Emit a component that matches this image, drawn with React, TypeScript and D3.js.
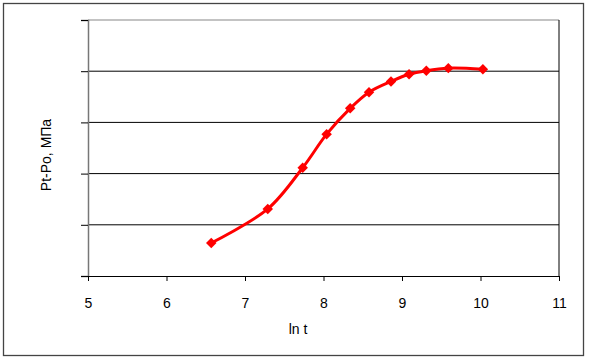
import React, { useEffect, useRef } from "react";
import * as d3 from "d3";

const lnT = [6.57, 7.29, 7.735, 8.04, 8.34, 8.58, 8.86, 9.09, 9.31, 9.59, 10.03];
const pressure = [0.645, 1.31, 2.115, 2.77, 3.275, 3.59, 3.8, 3.94, 4.01, 4.06, 4.04];
const xTicks = [5, 6, 7, 8, 9, 10, 11];
const yTicks = [0, 1, 2, 3, 4, 5];

const W = 589;
const H = 360;

const App = () => {
  const ref = useRef<SVGSVGElement>(null);

  useEffect(() => {
    const svg = d3.select(ref.current);
    svg.selectAll("*").remove();

    const margin = { top: 20, right: 30, bottom: 84, left: 88 };
    const x = d3.scaleLinear().domain([5, 11]).range([margin.left, W - margin.right]);
    const y = d3.scaleLinear().domain([0, 5]).range([H - margin.bottom, margin.top]);

    // outer frame
    svg.append("rect")
      .attr("x", 3.5).attr("y", 3.5)
      .attr("width", 580).attr("height", 352)
      .attr("fill", "white")
      .attr("stroke", "#444").attr("stroke-width", 1.3);

    // grid lines
    svg.append("g")
      .selectAll("line")
      .data(yTicks.slice(1, -1))
      .join("line")
      .attr("x1", x(5)).attr("x2", x(11))
      .attr("y1", d => y(d)).attr("y2", d => y(d))
      .attr("stroke", "#000").attr("stroke-width", 1);

    // plot area top / right
    svg.append("line")
      .attr("x1", x(5)).attr("x2", x(11)).attr("y1", y(5)).attr("y2", y(5))
      .attr("stroke", "#888").attr("stroke-width", 1.2);
    svg.append("line")
      .attr("x1", x(11)).attr("x2", x(11)).attr("y1", y(5)).attr("y2", y(0))
      .attr("stroke", "#000").attr("stroke-width", 1);

    // y axis, ticks without labels
    svg.append("g")
      .attr("transform", `translate(${x(5)},0)`)
      .call(d3.axisLeft(y).tickValues(yTicks).tickSize(7).tickFormat(() => ""))
      .call(g => g.select(".domain").attr("stroke", "#777").attr("stroke-width", 1.5))
      .call(g => g.selectAll(".tick line").attr("stroke", "#000"));

    // x axis
    svg.append("g")
      .attr("transform", `translate(0,${y(0)})`)
      .call(d3.axisBottom(x).tickValues(xTicks).tickSize(5).tickSizeOuter(0).tickFormat(d3.format("d")))
      .call(g => g.select(".domain").attr("stroke", "#000").attr("stroke-width", 1.2))
      .call(g => g.selectAll(".tick line").attr("stroke", "#000"))
      .call(g => g.selectAll(".tick text")
        .attr("dy", 0)
        .attr("y", 32)
        .attr("font-family", "Liberation Sans, Arial, sans-serif")
        .attr("font-size", 14)
        .attr("fill", "#000"));

    // axis titles
    svg.append("text")
      .attr("x", 298).attr("y", 334)
      .attr("text-anchor", "middle")
      .attr("font-family", "Liberation Sans, Arial, sans-serif")
      .attr("font-size", 14)
      .text("ln t");
    svg.append("text")
      .attr("transform", `translate(51,155) rotate(-90)`)
      .attr("text-anchor", "middle")
      .attr("font-family", "Liberation Sans, Arial, sans-serif")
      .attr("font-size", 14)
      .text("Pt-Po, МПа");

    const pts = lnT.map((d, i) => [d, pressure[i]] as [number, number]);

    const line = d3.line<[number, number]>()
      .x(d => x(d[0]))
      .y(d => y(d[1]))
      .curve(d3.curveCatmullRom.alpha(0.5));

    svg.append("path")
      .datum(pts)
      .attr("d", line)
      .attr("fill", "none")
      .attr("stroke", "#ff0000")
      .attr("stroke-width", 3);

    svg.append("g")
      .selectAll("path")
      .data(pts)
      .join("path")
      .attr("transform", d => `translate(${x(d[0])},${y(d[1])}) rotate(45)`)
      .attr("d", d3.symbol().type(d3.symbolSquare).size(55)())
      .attr("fill", "#ff0000");
  }, []);

  return (
    <div style={{ position: "absolute", left: 0, top: 0 }}>
      <svg ref={ref} width={W} height={H} style={{ display: "block" }} />
    </div>
  );
};

export default App;
